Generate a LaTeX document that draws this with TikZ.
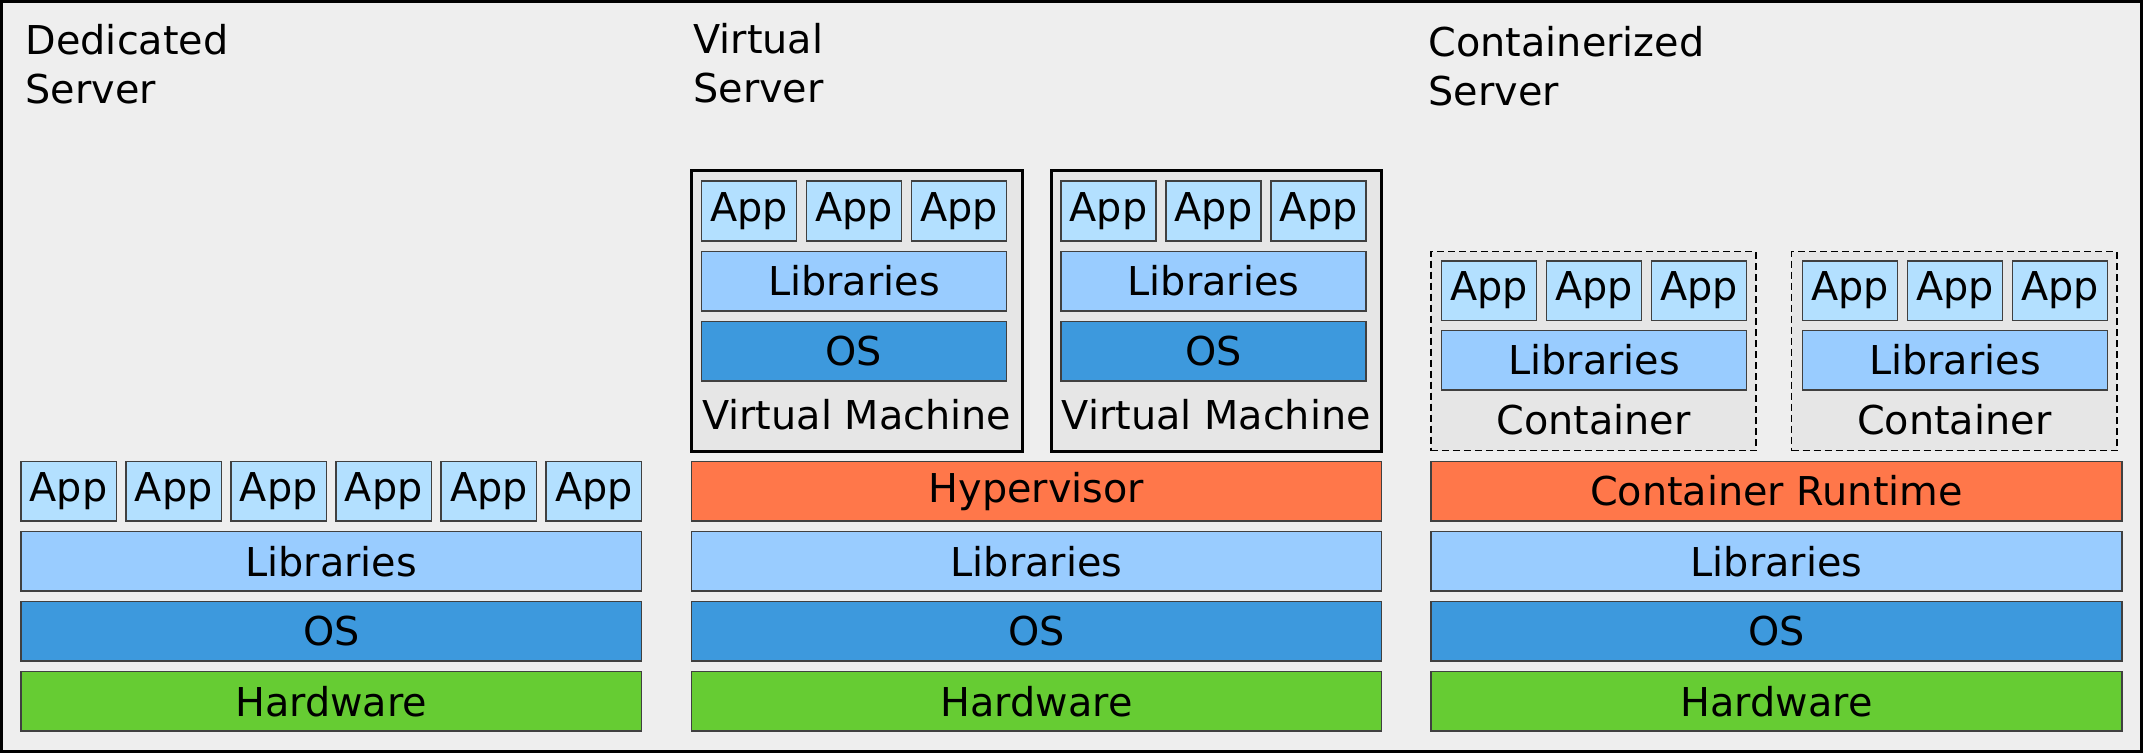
\documentclass[tikz,border=0pt]{standalone}
\usepackage{fontspec}
\setmainfont{DejaVu Sans}
\usetikzlibrary{positioning}
\definecolor{bgcol}{RGB}{238,238,238}
\definecolor{boxcol}{RGB}{230,230,230}
\definecolor{appcol}{RGB}{179,224,255}
\definecolor{libcol}{RGB}{153,204,255}
\definecolor{oscol}{RGB}{61,153,221}
\definecolor{hypcol}{RGB}{255,119,74}
\definecolor{hwcol}{RGB}{102,204,51}
\begin{document}
\begin{tikzpicture}[x=0.01cm,y=-0.01cm,node distance=0.105cm,
                    font=\fontsize{11.3}{14}\selectfont]
\tikzstyle{bar}=[rectangle,draw=black!75,line width=0.015cm,inner sep=0pt,outer sep=0pt,minimum height=0.595cm]
\tikzstyle{app}=[bar,fill=appcol,minimum width=0.95cm]
\tikzstyle{lib}=[bar,fill=libcol]
\tikzstyle{os}=[bar,fill=oscol]
\tikzstyle{hyper}=[bar,fill=hypcol]
\tikzstyle{hw}=[bar,fill=hwcol]
\tikzstyle{vm}=[rectangle,draw=black,line width=0.03cm,fill=boxcol,minimum width=3.305cm,minimum height=2.81cm,inner sep=0pt,outer sep=0pt]
\tikzstyle{cont}=[rectangle,draw=black,line width=0.015cm,dash pattern=on 0.07cm off 0.04cm,fill=boxcol,minimum width=3.25cm,minimum height=1.99cm,inner sep=0pt,outer sep=0pt]
\tikzstyle{heading}=[align=left,anchor=north west,inner sep=0pt]
\useasboundingbox (0,0) rectangle (2143,753);
\draw[line width=0.03cm,fill=bgcol] (1.5,1.5) rectangle (2141.5,751.5);

\node[heading] (dtitle) at (25,23.8) {Dedicated\\Server};
\node[hw,minimum width=6.205cm] (dhw) at (331.25,701.25) {Hardware};
\node[os,minimum width=6.205cm,above=of dhw] (dos) {OS};
\node[lib,minimum width=6.205cm,above=of dos] (dlib) {Libraries};
\node[app,minimum width=0.955cm,above right=0.105cm and 0cm of dlib.north west] (dapp1) {App};
\foreach \i [count=\j] in {2,...,6}
  \node[app,minimum width=0.955cm,right=0.095cm of dapp\j] (dapp\i) {App};

\node[heading] (vtitle) at (692.7,22.5) {Virtual\\Server};
\node[hw,minimum width=6.9cm] (vhw) at (1036.5,701.25) {Hardware};
\node[os,minimum width=6.9cm,above=of vhw] (vos) {OS};
\node[lib,minimum width=6.9cm,above=of vos] (vlib) {Libraries};
\node[hyper,minimum width=6.9cm,above=of vlib] (hyper) {Hypervisor};
\node[vm,above right=0.095cm and 0cm of hyper.north west] (vm1) {};
\node[vm,above left=0.095cm and 0cm of hyper.north east] (vm2) {};
\foreach \k in {1,2} {
  \node[app,below right=0.105cm and 0.1cm of vm\k.north west] (vm\k-a1) {App};
  \node[app,right=0.1cm of vm\k-a1] (vm\k-a2) {App};
  \node[app,right=0.1cm of vm\k-a2] (vm\k-a3) {App};
  \node[lib,minimum width=3.05cm,below right=0.105cm and 0cm of vm\k-a1.south west] (vm\k-lib) {Libraries};
  \node[os,minimum width=3.05cm,below=of vm\k-lib] (vm\k-os) {OS};
  \node[anchor=base] (vm\k-lbl) at ([yshift=0.225cm]vm\k.south) {Virtual Machine};
}

\node[heading] (ctitle) at (1428,25.5) {Containerized\\Server};
\node[hw,minimum width=6.91cm] (chw) at (1776.5,701.25) {Hardware};
\node[os,minimum width=6.91cm,above=of chw] (cos) {OS};
\node[lib,minimum width=6.91cm,above=of cos] (clib) {Libraries};
\node[hyper,minimum width=6.91cm,above=of clib] (runtime) {Container Runtime};
\node[cont,above right=0.107cm and 0cm of runtime.north west] (ct1) {};
\node[cont,above left=0.107cm and 0.054cm of runtime.north east] (ct2) {};
\foreach \k in {1,2} {
  \node[app,below right=0.093cm and 0.107cm of ct\k.north west] (ct\k-a1) {App};
  \node[app,right=0.1cm of ct\k-a1] (ct\k-a2) {App};
  \node[app,right=0.1cm of ct\k-a2] (ct\k-a3) {App};
  \node[lib,minimum width=3.05cm,below right=0.1cm and 0cm of ct\k-a1.south west] (ct\k-lib) {Libraries};
  \node[anchor=base] (ct\k-lbl) at ([yshift=0.16cm]ct\k.south) {Container};
}
\end{tikzpicture}
\end{document}
